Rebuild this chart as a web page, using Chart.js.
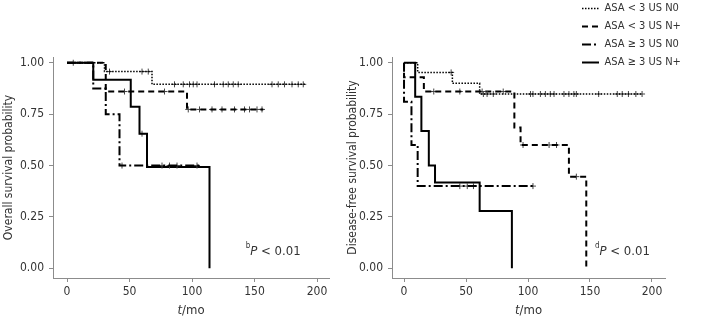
<html>
<head>
	<title>Survival curves</title>
	<meta name="viewport" content="width=device-width, initial-scale=1">
	<script src="https://cdn.jsdelivr.net/npm/chart.js"></script>
	<style>
		body { margin: 0; background: #fff; }
		.wrap { position: relative; width: 722px; height: 324px; overflow: hidden; }
		canvas { position: absolute; top: 0; }
		#os { left: 0; }
		#dfs { left: 345px; }
		#legend { left: 575px; top: -4px; }
	</style>
</head>
<body>
	<div class="wrap">
		<canvas id="os" width="345" height="324"></canvas>
		<canvas id="dfs" width="377" height="324"></canvas>
		<canvas id="legend" width="147" height="80"></canvas>
	</div>
<script>
	const groupLabels = ['ASA < 3 US N0', 'ASA < 3 US N+', 'ASA ≥ 3 US N0', 'ASA ≥ 3 US N+'];
	const xTicks = [0, 50, 100, 150, 200];
	const yTicks = [0, 0.25, 0.5, 0.75, 1];

	// overall survival (months / probability)
	const osLowN0Time = [0, 30, 68, 191];
	const osLowN0Surv = [1, 0.957, 0.895, 0.895];
	const osLowN0Cens = [34, 60, 65, 86, 93, 98, 101, 104, 118, 125, 129, 133, 137, 164, 169, 174, 180, 185, 189];
	const osLowNpTime = [0, 31, 96, 157];
	const osLowNpSurv = [1, 0.86, 0.773, 0.773];
	const osLowNpCens = [46, 78, 97, 106, 116, 124, 134, 142, 146, 152, 156];
	const osHighN0Time = [0, 21, 31, 42, 106];
	const osHighN0Surv = [1, 0.875, 0.75, 0.5, 0.5];
	const osHighN0Cens = [44, 76, 82, 88, 104];
	const osHighNpTime = [0, 21, 51, 58, 64, 114];
	const osHighNpSurv = [1, 0.917, 0.786, 0.655, 0.493, 0];
	const osHighNpCens = [5, 60];

	// disease-free survival
	const dfsLowN0Time = [0, 11, 39, 61, 192];
	const dfsLowN0Surv = [1, 0.953, 0.90, 0.848, 0.848];
	const dfsLowN0Cens = [38, 64, 67, 72, 102, 104, 110, 114, 118, 121, 129, 133, 137, 139, 157, 172, 176, 181, 187, 192];
	const dfsLowNpTime = [0, 0, 16, 89, 94, 133, 147];
	const dfsLowNpSurv = [1, 0.93, 0.86, 0.685, 0.60, 0.446, 0];
	const dfsLowNpCens = [24, 45, 63, 80, 96, 117, 123, 139];
	const dfsHighN0Time = [0, 0, 6, 11, 104];
	const dfsHighN0Surv = [1, 0.81, 0.60, 0.40, 0.40];
	const dfsHighN0Cens = [45, 51, 56, 104];
	const dfsHighNpTime = [0, 9, 14, 20, 25, 61, 87];
	const dfsHighNpSurv = [1, 0.835, 0.668, 0.50, 0.417, 0.279, 0];
	const dfsHighNpCens = [];

	const lineDash = [[1.5, 1.5], [6, 4], [9, 3, 2, 3], []];
	const lineWidth = [1.5, 2, 2, 2];
	const textColor = '#333';
	const axisColor = '#8c8c8c';
	const family = '"DejaVu Sans Condensed", "DejaVu Sans", sans-serif';

	const steps = (times, surv) => times.map((t, i) => ({x: t, y: surv[i]}));
	const survAt = (times, surv, t) => {
		let s = surv[0];
		times.forEach((u, i) => { if (u <= t) s = surv[i]; });
		return s;
	};
	const marks = (times, surv, cens) => cens.map(t => ({x: t, y: survAt(times, surv, t)}));

	const makeDatasets = (groups) => {
		const out = [];
		groups.forEach((g, i) => {
			out.push({
				type: 'line',
				label: groupLabels[i],
				data: steps(g[0], g[1]),
				stepped: true,
				borderColor: '#000',
				borderWidth: lineWidth[i],
				borderDash: lineDash[i],
				pointRadius: 0,
				fill: false
			});
			out.push({
				type: 'scatter',
				data: marks(g[0], g[1], g[2]),
				pointStyle: 'cross',
				pointRadius: 3,
				borderColor: '#444',
				borderWidth: 1
			});
		});
		return out;
	};

	const drawParts = (ctx, parts, x, y) => {
		parts.forEach(p => {
			ctx.font = p.font;
			ctx.fillText(p.text, x, y + (p.dy || 0));
			x += ctx.measureText(p.text).width;
		});
	};

	// italic t in the x title, superscript letter + italic P in the note
	const textPlugin = (sup, noteAt) => ({
		id: 'texts',
		afterDraw(chart) {
			const ctx = chart.ctx;
			const area = chart.chartArea;
			ctx.save();
			ctx.fillStyle = textColor;
			ctx.textBaseline = 'alphabetic';
			const title = [
				{text: 't', font: 'italic 13px ' + family},
				{text: '/mo', font: '13px ' + family}
			];
			let w = 0;
			title.forEach(p => { ctx.font = p.font; w += ctx.measureText(p.text).width; });
			drawParts(ctx, title, (area.left + area.right) / 2 - w / 2, area.bottom + 36);
			const nx = chart.scales.x.getPixelForValue(noteAt[0]);
			const ny = chart.scales.y.getPixelForValue(noteAt[1]);
			drawParts(ctx, [
				{text: sup, font: '8px ' + family, dy: -7},
				{text: 'P', font: 'italic 13px ' + family},
				{text: ' < 0.01', font: '13px ' + family}
			], nx, ny);
			ctx.restore();
		}
	});

	const kmConfig = (groups, yTitle, yWidth, titlePad, padRight, xRange, sup, noteAt) => ({
		type: 'line',
		data: {datasets: makeDatasets(groups)},
		options: {
			responsive: false,
			animation: false,
			events: [],
			layout: {padding: {top: 57, right: padRight, left: 0, bottom: 0}},
			plugins: {legend: {display: false}, tooltip: {enabled: false}},
			scales: {
				x: {
					type: 'linear',
					min: xRange[0],
					max: xRange[1],
					afterBuildTicks: s => { s.ticks = xTicks.map(v => ({value: v})); },
					afterFit: s => { s.height = 46; },
					grid: {drawOnChartArea: false, drawTicks: true, tickLength: 4, color: axisColor},
					border: {display: true, color: axisColor},
					ticks: {color: textColor, font: {family: family, size: 12}, padding: 3, maxRotation: 0, autoSkip: false}
				},
				y: {
					min: -0.047,
					max: 1.028,
					afterBuildTicks: s => { s.ticks = yTicks.map(v => ({value: v})); },
					afterFit: s => { s.width = yWidth; },
					grid: {drawOnChartArea: false, drawTicks: true, tickLength: 4, color: axisColor},
					border: {display: true, color: axisColor},
					ticks: {color: textColor, font: {family: family, size: 12}, padding: 5, callback: v => v.toFixed(2)},
					title: {display: true, text: yTitle, color: textColor, font: {family: family, size: 12}, padding: {top: titlePad, bottom: 0}}
				}
			}
		},
		plugins: [textPlugin(sup, noteAt)]
	});

	const osChart = new Chart(
		document.getElementById('os'),
		kmConfig([
			[osLowN0Time, osLowN0Surv, osLowN0Cens],
			[osLowNpTime, osLowNpSurv, osLowNpCens],
			[osHighN0Time, osHighN0Surv, osHighN0Cens],
			[osHighNpTime, osHighNpSurv, osHighNpCens]
		], 'Overall survival probability', 53, 1.5, 16, [-11.2, 209.6], 'b', [143, 0.065])
	);

	const dfsChart = new Chart(
		document.getElementById('dfs'),
		kmConfig([
			[dfsLowN0Time, dfsLowN0Surv, dfsLowN0Cens],
			[dfsLowNpTime, dfsLowNpSurv, dfsLowNpCens],
			[dfsHighN0Time, dfsHighN0Surv, dfsHighN0Cens],
			[dfsHighNpTime, dfsHighNpSurv, dfsHighNpCens]
		], 'Disease-free survival probability', 47, 1, 57, [-9.7, 210.5], 'd', [154, 0.065])
	);

	// legend only
	const legendChart = new Chart(document.getElementById('legend'), {
		type: 'line',
		data: {
			datasets: groupLabels.map((label, i) => ({label: label, data: [], borderColor: '#000', borderWidth: lineWidth[i], borderDash: lineDash[i]}))
		},
		options: {
			responsive: false,
			animation: false,
			events: [],
			scales: {x: {display: false}, y: {display: false}},
			plugins: {
				tooltip: {enabled: false},
				legend: {
					position: 'left',
					align: 'start',
					maxWidth: 147,
					labels: {
						usePointStyle: true,
						pointStyleWidth: 17,
						padding: 7,
						color: textColor,
						font: {family: family, size: 11},
						generateLabels: chart => chart.data.datasets.map((d, i) => ({
							text: d.label,
							strokeStyle: '#000',
							fillStyle: '#000',
							fontColor: textColor,
							lineWidth: d.borderWidth,
							lineDash: d.borderDash,
							pointStyle: 'line',
							datasetIndex: i
						}))
					}
				}
			}
		}
	});
</script>
</body>
</html>
